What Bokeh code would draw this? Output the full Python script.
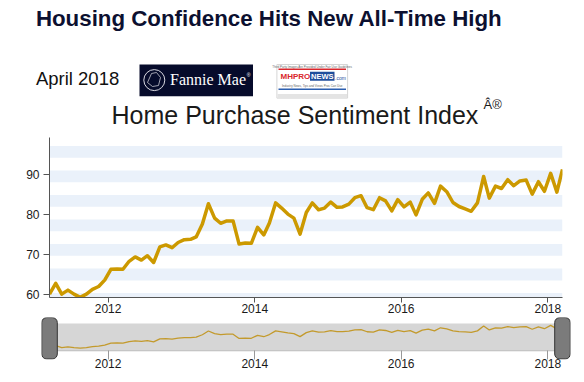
import numpy as np
import pandas as pd
from bokeh.plotting import figure
from bokeh.layouts import column
from bokeh.models import Range1d, FixedTicker, DatetimeTickFormatter
from bokeh.core.properties import value
from bokeh.embed import file_html
from bokeh.resources import INLINE

# ---------------- data ----------------
first_month = "2011-03"
hpsi = [
    60.0, 62.7, 60.0, 61.0, 60.0, 59.2, 60.0, 61.2, 61.9, 63.5,
    66.2, 66.3, 66.2, 68.2, 69.3, 68.5, 69.6, 67.9, 71.8, 72.3, 71.6, 72.9,
    73.6, 73.7, 74.3, 77.5, 82.6, 79.0, 77.7, 78.3, 78.3, 72.5, 72.75, 72.7,
    76.7, 74.8, 77.8, 82.8, 81.5, 80.0, 79.0, 75.0, 80.4, 82.8, 81.1, 81.5,
    83.0, 81.7, 81.8, 82.5, 84.1, 84.6, 81.6, 81.1, 84.1, 83.3, 80.8, 83.6,
    81.8, 83.0, 79.8, 83.7, 85.3, 82.7, 87.0, 85.6, 82.9, 81.9, 81.3, 80.7,
    82.8, 89.4, 84.0, 87.0, 86.4, 88.6, 87.1, 88.3, 88.5, 85.0, 88.1, 85.7,
    90.2, 85.5, 91.2,
]
tick_years = [2012, 2014, 2016, 2018]
y_ticks = [60, 70, 80, 90]
headline = "Housing Confidence Hits New All-Time High"
dateline = "April 2018"
chart_title = "Home Purchase Sentiment Index"
chart_title_mark = "Â®"
logo_fannie = "Fannie Mae"
logo_mh_top = "Third Party Images Are Provided Under Fair Use Guidelines"
logo_mh_a = "MHPRO"
logo_mh_b = "NEWS"
logo_mh_c = ".com"
logo_mh_bottom = "Industry News, Tips and Views Pros Can Use"

# ---------------- derived ----------------
dates = pd.date_range(first_month + "-01", periods=len(hpsi), freq="MS") + pd.Timedelta(days=14)
ms = dates.values.astype("datetime64[ms]").astype("int64").astype(float)
d0, d1 = ms[0], ms[-1]
tick_ms = [pd.Timestamp(f"{y}-01-01").value / 1e6 for y in tick_years]

FONT = "Liberation Sans"
W = 584
LINE = "#cc9900"
TXT = "#1a1a1a"

fmt = DatetimeTickFormatter(**{k: "%Y" for k in ["milliseconds", "seconds", "minsec", "minutes",
                                                  "hourmin", "hours", "days", "months", "years"]})


def label(fig, x, y, txt, size, color, font=FONT, style="normal", align="left"):
    fig.text(x=[x], y=[y], text=[txt], text_font=value(font), text_font_style=style,
             text_font_size=size, text_color=color, text_baseline="middle", text_align=align)


# ---------------- header ----------------
hdr = figure(width=W, height=130, x_range=Range1d(0, W), y_range=Range1d(130, 0),
             output_backend="svg", toolbar_location=None,
             x_axis_location=None, y_axis_location=None, min_border=0, frame_align=False)
hdr.grid.visible = False
hdr.outline_line_color = None

label(hdr, 35.4, 18.0, headline, "22.3px", "#0c1030", style="bold")
label(hdr, 35.4, 77.9, dateline, "18.5px", "#111111")

# Fannie Mae logo
hdr.quad(left=[139], right=[252.5], top=[64], bottom=[95.7], fill_color="#060b2b", line_color=None)
hdr.circle(x=[153.8], y=[79.6], radius=10.5, fill_color=None, line_color="#d8d8e0", line_width=1)
hdr.line(x=[147, 151, 156, 160, 158, 152, 147], y=[82, 73, 72, 77, 85, 86, 82],
         line_color="#c8c8d0", line_width=0.8)
label(hdr, 169.5, 79.4, logo_fannie, "16px", "white", font="Liberation Serif")
label(hdr, 246.3, 74.5, "®", "5px", "white")

# MHProNews logo
hdr.quad(left=[276.4], right=[347.1], top=[64], bottom=[97.6], fill_color="white", line_color="#d6d6d6")
hdr.quad(left=[277], right=[346.5], top=[93.5], bottom=[97.4], fill_color="#e4e4e4", line_color=None)
label(hdr, 311.7, 66.3, logo_mh_top, "3px", "#666666", align="center")
hdr.segment(x0=[278], y0=[68.8], x1=[345.5], y1=[68.8], line_color="#d9262c", line_width=1.5)
hdr.quad(left=[309.5], right=[334], top=[71.3], bottom=[80.3], fill_color="#1f4e9c", line_color=None)
label(hdr, 280, 75.9, logo_mh_a, "8px", "#d9262c", style="bold")
label(hdr, 310.5, 75.9, logo_mh_b, "7.5px", "white", style="bold")
label(hdr, 334.5, 77.5, logo_mh_c, "5px", "#1f4e9c")
label(hdr, 311.7, 85.3, logo_mh_bottom, "3px", "#666666", align="center")
hdr.segment(x0=[278], y0=[88.8], x1=[345.5], y1=[88.8], line_color="#2c5fb0", line_width=1.5)

# chart title
label(hdr, 111, 114.3, chart_title, "25px", TXT)
label(hdr, 483.0, 104.0, chart_title_mark, "13px", TXT)

# ---------------- main chart ----------------
FRAME_W = 513
main = figure(width=W, height=187, x_axis_type="datetime",
              x_range=Range1d(d0, d1), y_range=Range1d(59.15, 99.15),
              output_backend="svg", toolbar_location=None, frame_align=False,
              min_border_left=49, min_border_right=W - 49 - FRAME_W,
              min_border_top=7, min_border_bottom=20)
main.grid.visible = False
main.outline_line_color = None

band_bottoms = 57.3 + 6.13 * np.arange(7)
main.quad(left=[d0] * 7, right=[d1] * 7, bottom=band_bottoms, top=band_bottoms + 2.95,
          fill_color="#eaf1fa", line_color=None)
main.line(ms, hpsi, line_color=LINE, line_width=3.5, line_join="round")

main.xaxis.ticker = FixedTicker(ticks=tick_ms)
main.xaxis.formatter = fmt
main.yaxis.ticker = FixedTicker(ticks=y_ticks)
for ax in (main.xaxis, main.yaxis):
    ax.axis_line_color = "#555555"
    ax.major_tick_line_color = "#555555"
    ax.minor_tick_line_color = None
    ax.major_tick_in = 0
    ax.major_label_text_font = FONT
    ax.major_label_text_font_size = "12px"
    ax.major_label_text_color = TXT
main.xaxis.major_tick_out = 5
main.xaxis.major_label_standoff = 1
main.yaxis.major_tick_out = 6
main.yaxis.major_label_standoff = 4

# ---------------- navigator ----------------
px_per_ms = FRAME_W / (d1 - d0)
n0 = d0 - 8 / px_per_ms
n1 = d1 + 8 / px_per_ms
NAV_W = FRAME_W + 16
nav = figure(width=W, height=65, x_axis_type="datetime",
             x_range=Range1d(n0, n1), y_range=Range1d(43.8, 101.0),
             output_backend="svg", toolbar_location=None, y_axis_location=None, frame_align=False,
             min_border_left=41, min_border_right=W - 41 - NAV_W, min_border_top=0, min_border_bottom=23)
nav.grid.visible = False
nav.outline_line_color = None
nav.quad(left=[d0], right=[d1], bottom=[55.7], top=[92.7], fill_color="#d6d6d6", line_color=None)
nav.segment(x0=[d0], y0=[55.7], x1=[d1], y1=[55.7], line_color="#bdbdbd", line_width=1)
nav.line(ms, hpsi, line_color="#c39a2c", line_width=1.3)
hw = 7.8 / px_per_ms
nav.quad(left=[d0 - hw, d1 - hw], right=[d0 + hw, d1 + hw], top=[100.9, 100.9], bottom=[44.5, 44.5],
         fill_color="#7b7b7b", line_color="#333333", line_width=1, border_radius=5)
nav.xaxis.ticker = FixedTicker(ticks=tick_ms)
nav.xaxis.formatter = fmt
nav.xaxis.axis_line_color = None
nav.xaxis.major_tick_line_color = "#999999"
nav.xaxis.minor_tick_line_color = None
nav.xaxis.major_tick_in = 9
nav.xaxis.major_tick_out = 0
nav.xaxis.major_label_standoff = -1
nav.xaxis.major_label_text_font = FONT
nav.xaxis.major_label_text_font_size = "12px"
nav.xaxis.major_label_text_color = TXT

layout = column(hdr, main, nav)
open("out.html", "w").write(file_html(layout, INLINE))
